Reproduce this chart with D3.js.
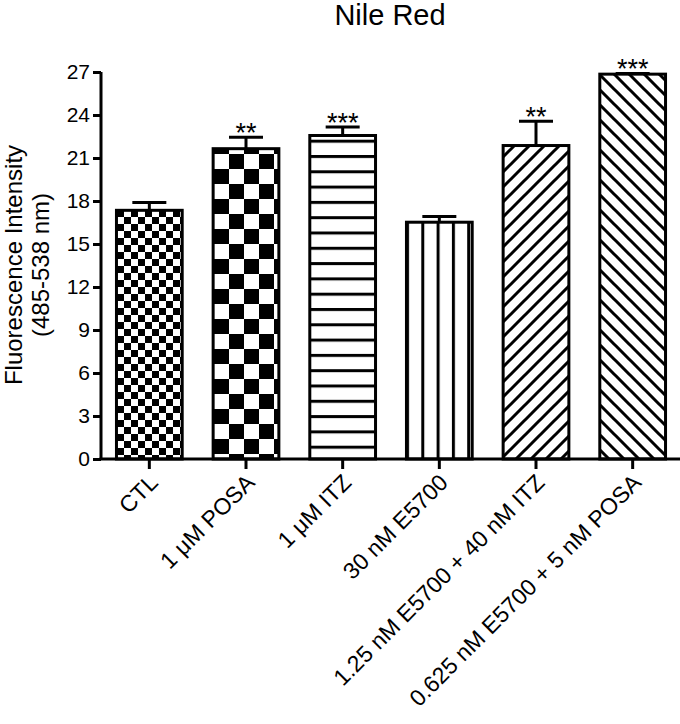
<!DOCTYPE html>
<html><head><meta charset="utf-8">
<script src="https://cdn.jsdelivr.net/npm/d3@7"></script>
<style>body{margin:0;background:#fff;} svg{display:block;font-family:"Liberation Sans",Arial,sans-serif;}</style>
</head><body>
<svg id="chart" width="680" height="724"></svg>
<script>
const categories = ["CTL","1 μM POSA","1 μM ITZ","30 nM E5700","1.25 nM E5700 + 40 nM ITZ","0.625 nM E5700 + 5 nM POSA"];
const means = [17.35, 21.65, 22.57, 16.52, 21.87, 26.85];
const errors = [0.55, 0.8, 0.6, 0.4, 1.7, 0.05];
const stars = ["", "**", "***", "", "**", "***"];
const patterns = ["checkSmall","checkLarge","horiz","vert","diagUp","diagDown"];
const yTicks = [0,3,6,9,12,15,18,21,24,27];

const svg = d3.select("#chart");
const defs = svg.append("defs");

// small checker
let p = defs.append("pattern").attr("id","checkSmall").attr("patternUnits","userSpaceOnUse")
  .attr("width",14).attr("height",14).attr("x",117).attr("y",0);
p.append("rect").attr("width",14).attr("height",14).attr("fill","#fff");
p.append("rect").attr("width",7).attr("height",7).attr("fill","#000");
p.append("rect").attr("x",7).attr("y",7).attr("width",7).attr("height",7).attr("fill","#000");
// large checker
p = defs.append("pattern").attr("id","checkLarge").attr("patternUnits","userSpaceOnUse")
  .attr("width",30).attr("height",30).attr("x",214).attr("y",4);
p.append("rect").attr("width",30).attr("height",30).attr("fill","#fff");
p.append("rect").attr("x",15).attr("width",15).attr("height",15).attr("fill","#000");
p.append("rect").attr("y",15).attr("width",15).attr("height",15).attr("fill","#000");
// horizontal lines
p = defs.append("pattern").attr("id","horiz").attr("patternUnits","userSpaceOnUse")
  .attr("width",15).attr("height",15.3).attr("y",2);
p.append("rect").attr("width",15).attr("height",15.3).attr("fill","#fff");
p.append("rect").attr("y",0).attr("width",15).attr("height",3).attr("fill","#000");
// vertical lines
p = defs.append("pattern").attr("id","vert").attr("patternUnits","userSpaceOnUse")
  .attr("width",15.3).attr("height",15).attr("x",406);
p.append("rect").attr("width",15.3).attr("height",15).attr("fill","#fff");
p.append("rect").attr("x",0).attr("width",3).attr("height",15).attr("fill","#000");
// diagonal up "/"
p = defs.append("pattern").attr("id","diagUp").attr("patternUnits","userSpaceOnUse")
  .attr("width",15).attr("height",15);
p.append("rect").attr("width",15).attr("height",15).attr("fill","#fff");
p.append("path").attr("d","M-2,2 L2,-2 M0,15 L15,0 M13,17 L17,13").attr("stroke","#000").attr("stroke-width",3);
// diagonal down "\"
p = defs.append("pattern").attr("id","diagDown").attr("patternUnits","userSpaceOnUse")
  .attr("width",15).attr("height",15);
p.append("rect").attr("width",15).attr("height",15).attr("fill","#fff");
p.append("path").attr("d","M-2,13 L2,17 M0,0 L15,15 M13,-2 L17,2").attr("stroke","#000").attr("stroke-width",3);

const x = d3.scaleBand().domain(categories).range([101, 681]).paddingInner(0.32).paddingOuter(0.16);
const y = d3.scaleLinear().domain([0,27]).range([459,72]);

// title
svg.append("text").attr("x",390).attr("y",25).attr("text-anchor","middle")
  .attr("font-size",29).text("Nile Red");

// y label
const yl = svg.append("text").attr("transform","translate(0,265) rotate(-90)")
  .attr("text-anchor","middle").attr("font-size",24);
yl.append("tspan").attr("x",0).attr("y",22).text("Fluorescence Intensity");
yl.append("tspan").attr("x",0).attr("y",49).text("(485-538 nm)");

// bars
const g = svg.append("g");
g.selectAll("rect.bar").data(categories).join("rect").attr("class","bar")
  .attr("x", d => x(d)).attr("width", x.bandwidth())
  .attr("y", (d,i) => y(means[i])).attr("height", (d,i) => y(0) - y(means[i]))
  .attr("fill", (d,i) => `url(#${patterns[i]})`)
  .attr("stroke","#000").attr("stroke-width",3);

// error bars
categories.forEach((c,i) => {
  const cx = x(c) + x.bandwidth()/2;
  const top = y(means[i] + errors[i]);
  g.append("line").attr("x1",cx).attr("x2",cx).attr("y1",y(means[i])).attr("y2",top)
    .attr("stroke","#000").attr("stroke-width",3);
  g.append("line").attr("x1",cx-17).attr("x2",cx+17).attr("y1",top).attr("y2",top)
    .attr("stroke","#000").attr("stroke-width",3);
  if (stars[i]) {
    g.append("text").attr("x",cx).attr("y",top+5).attr("text-anchor","middle")
      .attr("font-size",27).text(stars[i]);
  }
});

// y axis
const ya = svg.append("g").attr("transform","translate(101,0)")
  .call(d3.axisLeft(y).tickValues(yTicks).tickSize(8).tickPadding(3).tickFormat(d3.format("d")));
ya.select(".domain").attr("stroke-width",3).attr("d","M0,459V72");
ya.selectAll(".tick line").attr("stroke-width",3);
ya.selectAll(".tick text").attr("font-size",21).attr("font-family","Liberation Sans, Arial, sans-serif").attr("fill","#000");

// x axis
const xa = svg.append("g").attr("transform","translate(0,459)")
  .call(d3.axisBottom(x).tickSize(10).tickPadding(4));
xa.select(".domain").attr("stroke-width",3).attr("d","M99.5,0H680");
xa.selectAll(".tick line").attr("stroke-width",3);
xa.selectAll(".tick text").attr("font-size",23).attr("font-family","Liberation Sans, Arial, sans-serif").attr("fill","#000")
  .attr("text-anchor","end").attr("dy",0).attr("dx",0)
  .attr("transform","translate(10,25) rotate(-45)").attr("y",0);
</script>
</body></html>
